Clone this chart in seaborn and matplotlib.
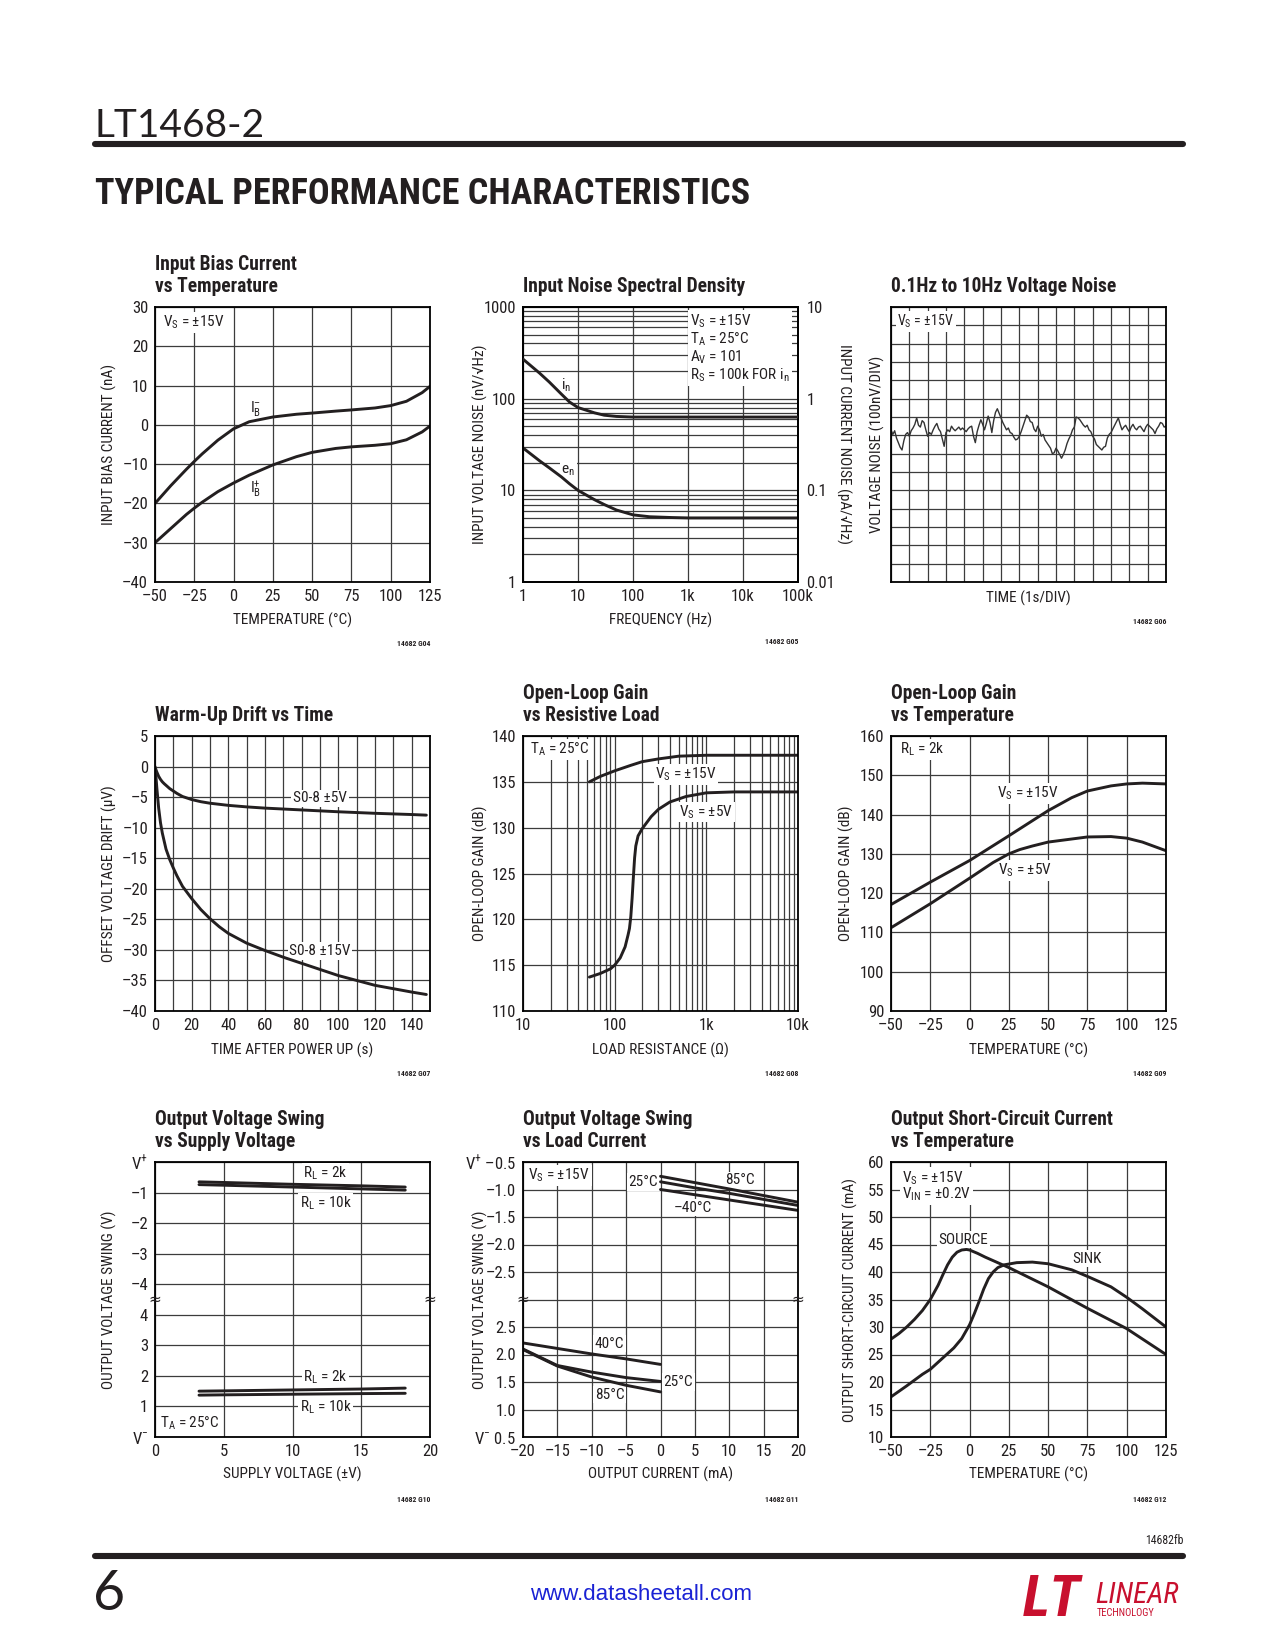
import numpy as np
import matplotlib
matplotlib.use('Agg')
import matplotlib.pyplot as plt
import matplotlib.font_manager as fm
from matplotlib.lines import Line2D
import seaborn as sns

# ---------------- data ----------------
# G04 input bias current vs temperature
ib_temp = [-50, -40, -30, -25, -20, -10, 0, 10, 25, 40, 50, 65, 75, 90, 100, 110, 120, 125]
ib_minus = [-20, -15.5, -11.3, -9.3, -7.4, -3.9, -1.0, 0.8, 2.0, 2.7, 3.0, 3.5, 3.8, 4.3, 4.9, 6.0, 8.2, 9.8]
ib_plus = [-30, -26.4, -22.8, -21.2, -19.7, -17.0, -14.8, -12.8, -10.2, -8.1, -7.0, -6.0, -5.6, -5.2, -4.8, -3.8, -1.8, -0.3]

# G05 input noise spectral density
nz_freq = [1, 2, 3, 5, 7, 10, 20, 30, 50, 100, 200, 500, 1000, 10000, 100000]
en_nv = [29, 21, 17.6, 14, 11.8, 10, 7.9, 7.0, 6.1, 5.4, 5.15, 5.05, 5.0, 5.0, 5.0]
in_pa = [2.7, 1.9, 1.52, 1.12, 0.92, 0.80, 0.70, 0.66, 0.64, 0.63, 0.63, 0.63, 0.63, 0.63, 0.63]

# G06 0.1Hz to 10Hz noise, nV (100nV/div), one sample per 0.1 div
noise_nv = [30, 5, 25, -15, -40, -65, -80, -30, 5, 15, -5, 25, 40, 60, 95, 55, 45, 80, 70, 30,
            -5, 15, 5, 30, 50, 65, 35, 20, -20, -60, 15, 30, 20, 50, 35, 25, 35, 45, 30, 40,
            30, 20, 35, 45, 50, -5, -40, 20, 55, 85, 60, 30, 65, 105, 70, 15, 80, 125, 145, 120,
            95, 70, 50, 30, 40, 15, 10, -10, -25, -20, -5, 20, 50, 80, 110, 100, 75, 70, 35, 20,
            50, 30, -5, 5, -25, -40, -55, -70, -100, -95, -70, -85, -105, -125, -105, -80, -45, -20, 0, 30,
            45, 100, 95, 85, 70, 55, 45, 55, 30, 20, -5, -20, -50, -60, -70, -80, -65, -60, -15, 5,
            15, 35, 55, 75, 95, 60, 30, 45, 55, 35, 20, 45, 60, 40, 30, 45, 50, 35, 20, 45,
            60, 50, 40, 30, 10, 35, 50, 70, 65, 45, 50]

# G07 warm-up drift
drift5_t = [0, 0.5, 1, 2, 3, 4, 5, 6.5, 8, 10, 12, 15, 20, 25, 30, 40, 50, 60, 80, 100, 120, 140, 148]
drift5 = [0, -0.5, -0.9, -1.6, -2.1, -2.5, -2.8, -3.2, -3.6, -4.0, -4.4, -4.9, -5.4, -5.75, -6.0,
          -6.35, -6.6, -6.8, -7.1, -7.4, -7.65, -7.85, -7.95]
drift15_t = [0.3, 1, 2, 3, 4, 6, 8, 10, 12, 15, 20, 25, 30, 35, 40, 50, 60, 70, 80, 100, 120, 140, 148]
drift15 = [-0.8, -3.5, -6.8, -9.2, -10.9, -13.5, -15.2, -16.6, -17.9, -19.6, -21.6, -23.4, -24.9, -26.2,
           -27.3, -28.9, -30.1, -31.2, -32.2, -34.2, -35.8, -36.9, -37.3]

# G08 open-loop gain vs resistive load
olr15_r = [53, 70, 100, 150, 200, 300, 500, 1000, 2000, 10000]
olr15 = [135.0, 135.6, 136.2, 136.8, 137.2, 137.5, 137.8, 137.9, 137.9, 137.9]
olr5_r = [53, 70, 90, 100, 115, 130, 140, 145, 150, 155, 160, 165, 170, 180, 200, 250, 300, 400, 600,
          1000, 2000, 10000]
olr5 = [113.7, 114.1, 114.6, 115.0, 115.8, 117.0, 118.3, 119.0, 120.3, 122.3, 124.6, 126.7, 128.0, 129.1,
        129.9, 131.2, 132.0, 132.8, 133.4, 133.8, 133.9, 133.9]

# G09 open-loop gain vs temperature
olt15_t = [-50, -25, 0, 25, 50, 65, 75, 90, 100, 110, 125]
olt15 = [117.1, 122.8, 128.3, 134.6, 141.0, 144.3, 146.0, 147.3, 147.8, 148.0, 147.8]
olt5_t = [-50, -25, 0, 15, 25, 32, 40, 50, 75, 90, 100, 110, 125]
olt5 = [111.2, 117.3, 123.8, 127.8, 130.0, 131.1, 132.0, 133.0, 134.3, 134.4, 134.0, 133.0, 130.8]

# G10 output swing vs supply (top: V from V+, bottom: V from V-)
sw_vs = [3.2, 5, 10, 15, 18.2]
sw_hi_2k = [-0.65, -0.67, -0.73, -0.78, -0.82]
sw_hi_10k = [-0.74, -0.76, -0.82, -0.88, -0.92]
sw_lo_2k = [1.50, 1.51, 1.54, 1.57, 1.60]
sw_lo_10k = [1.37, 1.38, 1.40, 1.42, 1.43]

# G11 output swing vs load current
src_ma = [0, 5, 10, 15, 20]
src_85 = [-0.76, -0.875, -0.99, -1.11, -1.23]
src_25 = [-0.86, -0.97, -1.07, -1.18, -1.29]
src_m40 = [-1.0, -1.095, -1.19, -1.285, -1.38]
snk_ma = [-20, -18, -15, -10, -5, 0]
snk_40 = [2.21, 2.17, 2.11, 2.01, 1.92, 1.82]
snk_25 = [2.10, 1.98, 1.80, 1.68, 1.58, 1.51]
snk_85 = [2.09, 1.97, 1.79, 1.59, 1.44, 1.32]

# G12 short-circuit current
sc_src_t = [-50, -45, -40, -35, -30, -25, -20, -17, -14, -11, -8, -5, -2, 0, 5, 10, 25, 50, 75, 100, 125]
sc_src = [27.8, 28.8, 30.0, 31.4, 33.0, 35.0, 37.6, 39.5, 41.3, 42.7, 43.6, 44.0, 44.1, 44.0, 43.4, 42.7,
          40.8, 37.3, 33.4, 29.7, 25.0]
sc_snk_t = [-50, -40, -30, -25, -20, -10, -5, 0, 3, 6, 9, 12, 15, 18, 22, 30, 40, 50, 65, 75, 90, 100,
            110, 125]
sc_snk = [17.3, 19.3, 21.4, 22.3, 23.6, 26.2, 27.9, 30.4, 32.4, 34.6, 36.9, 38.8, 40.0, 40.8, 41.3, 41.7,
          41.8, 41.5, 40.4, 39.2, 37.3, 35.4, 33.3, 30.0]

DASH = '\u2013'
sw7_labels = ['V$^{-}$', '1', '2', '3', '4', DASH + '4', DASH + '3', DASH + '2', DASH + '1', 'V$^{+}$']
sw8_labels = ['V$^{-}$ 0.5', '1.0', '1.5', '2.0', '2.5', '', DASH + '2.5', DASH + '2.0', DASH + '1.5',
              DASH + '1.0', 'V$^{+}$ ' + DASH + '0.5']

# ---------------- style ----------------
sns.set_style('white')
names = set(f.name for f in fm.fontManager.ttflist)
cands = ['Liberation Sans Narrow', 'Arial Narrow', 'Roboto Condensed', 'Noto Sans Condensed',
         'Open Sans Condensed', 'DejaVu Sans Condensed', 'Nimbus Sans Narrow']
found = [c for c in cands if c in names]
dejavu_cond = any('DejaVuSansCondensed' in f.fname for f in fm.fontManager.ttflist)
if found:
    NARROW = found[0]
    K = 1.0
elif dejavu_cond:
    NARROW = 'DejaVu Sans'
    plt.rcParams['font.stretch'] = 'condensed'
    K = 0.92
else:
    NARROW = 'Liberation Sans'
    K = 0.9
plt.rcParams['font.family'] = [NARROW, 'DejaVu Sans']
plt.rcParams['mathtext.fontset'] = 'custom'
plt.rcParams['mathtext.rm'] = NARROW
plt.rcParams['mathtext.it'] = NARROW
plt.rcParams['mathtext.bf'] = NARROW + ':bold'

INK = '#231f20'
GRID = '#3c3c3c'
LW = 2.1
TICK = 12 * K
NOTE = 11 * K
LAB = 11 * K

W, H = 1275, 1650
fig = plt.figure(figsize=(W / 100, H / 100), dpi=100)


def lbl(vals):
    return [str(v).replace('-', DASH) for v in vals]


def add_ax(left, top, w=275, h=275):
    ax = fig.add_axes([left / W, 1 - (top + h) / H, w / W, h / H])
    ax._px = (left, top, w, h)
    return ax


def ftext(x, y, s, **kw):
    return fig.text(x / W, 1 - y / H, s, **kw)


def style(ax):
    for s in ax.spines.values():
        s.set_color('black')
        s.set_linewidth(1.3)
        s.set_zorder(6)
    ax.set_axisbelow(True)
    ax.grid(True, which='major', color=GRID, lw=0.9)
    ax.tick_params(which='both', length=0, labelsize=TICK, labelcolor=INK, pad=5)


def ticks(ax, xs=None, ys=None):
    if xs is not None:
        ax.set_xticks(xs)
        ax.set_xticklabels(lbl(xs))
    if ys is not None:
        ax.set_yticks(ys)
        ax.set_yticklabels(lbl(ys))


def title(ax, lines):
    left, top, w, h = ax._px
    n = len(lines)
    for i, s in enumerate(lines):
        ftext(left, top - 15 - 22 * (n - 1 - i), s, fontsize=14.5 * K * 0.97, weight='bold', color=INK,
              va='baseline')


def xlab(ax, s, dy=38):
    ax.text(0.5, -dy / 275, s, transform=ax.transAxes, ha='center', va='center', fontsize=LAB, color=INK)


def ylab(ax, s, dx=46, right=False):
    if right:
        ax.text(1 + dx / 275, 0.5, s, transform=ax.transAxes, ha='center', va='center',
                rotation=270, fontsize=LAB, color=INK)
    else:
        ax.text(-dx / 275, 0.5, s, transform=ax.transAxes, ha='center', va='center',
                rotation=90, fontsize=LAB, color=INK)


def code(ax, s, dy=62):
    ax.text(1.0, -dy / 275, s, transform=ax.transAxes, ha='right', va='center', fontsize=5.5,
            weight='bold', color=INK)


def note(ax, x, y, s, ha='center', va='center', size=None):
    ax.text(x, y, s, ha=ha, va=va, fontsize=size or NOTE, color=INK, zorder=3,
            bbox=dict(fc='white', ec='none', pad=1.2))


def curve(ax, x, y, lw=LW, color=INK):
    sns.lineplot(x=x, y=y, ax=ax, color=color, lw=lw, zorder=4, legend=False)


COLS = [155, 523, 891]
ROWS = [307, 736, 1162]

# ---- G04 ----
ax = add_ax(COLS[0], ROWS[0])
style(ax)
curve(ax, ib_temp, ib_minus)
curve(ax, ib_temp, ib_plus)
ax.set_xlim(-50, 125)
ax.set_ylim(-40, 30)
ticks(ax, list(range(-50, 126, 25)), list(range(-40, 31, 10)))
note(ax, -45, 26, 'V$_\\mathrm{S}$ = \u00b115V', ha='left')
note(ax, 14, 4.2, 'I$_\\mathrm{B}^{' + DASH + '}$')
note(ax, 14, -16.2, 'I$_\\mathrm{B}^{+}$')
title(ax, ['Input Bias Current', 'vs Temperature'])
xlab(ax, 'TEMPERATURE (\u00b0C)')
ylab(ax, 'INPUT BIAS CURRENT (nA)')
code(ax, '14682 G04')

# ---- G05 ----
ax = add_ax(COLS[1], ROWS[0])
style(ax)
ax.set_xscale('log')
ax.set_yscale('log')
ax.set_xlim(1, 1e5)
ax.set_ylim(1, 1000)
ax.grid(True, which='minor', axis='y', color=GRID, lw=0.9)
curve(ax, nz_freq, en_nv)
ax.set_xticks([1, 10, 100, 1e3, 1e4, 1e5])
ax.set_xticklabels(['1', '10', '100', '1k', '10k', '100k'])
ax.set_yticks([1, 10, 100, 1000])
ax.set_yticklabels(['1', '10', '100', '1000'])
ax.tick_params(which='minor', labelleft=False, labelbottom=False)
ax.text(10 ** 3.04, 10 ** 2.94,
        'V$_\\mathrm{S}$ = \u00b115V\nT$_\\mathrm{A}$ = 25\u00b0C\nA$_\\mathrm{V}$ = 101\nR$_\\mathrm{S}$ = 100k FOR i$_\\mathrm{n}$',
        ha='left', va='top', fontsize=NOTE, color=INK, linespacing=1.05, zorder=3,
        bbox=dict(fc='white', ec='none', pad=1.5))
note(ax, 6.0, 140, 'i$_\\mathrm{n}$')
note(ax, 6.6, 16.5, 'e$_\\mathrm{n}$')
axr = ax.twinx()
axr.set_yscale('log')
axr.set_ylim(0.01, 10)
curve(axr, nz_freq, in_pa)
axr.set_yticks([0.01, 0.1, 1, 10])
axr.set_yticklabels(['0.01', '0.1', '1', '10'])
axr.tick_params(which='both', length=0, labelsize=TICK, labelcolor=INK, pad=6)
axr.tick_params(which='minor', labelright=False)
axr.set_ylabel('')
for s in axr.spines.values():
    s.set_linewidth(1.3)
    s.set_color('black')
ax.set_ylabel('')
title(ax, ['Input Noise Spectral Density'])
xlab(ax, 'FREQUENCY (Hz)')
ylab(ax, 'INPUT VOLTAGE NOISE (nV/\u221aHz)', dx=43)
ylab(ax, 'INPUT CURRENT NOISE (pA/\u221aHz)', dx=46, right=True)
code(ax, '14682 G05', dy=60)

# ---- G06 ----
ax = add_ax(COLS[2], ROWS[0])
style(ax)
noise_time = np.linspace(0, 15, len(noise_nv))
curve(ax, noise_time, noise_nv, lw=1.0, color='#333333')
ax.set_xlim(0, 15)
ax.set_ylim(-800, 700)
ax.set_xticks(range(0, 16))
ax.set_yticks(range(-800, 701, 100))
ax.set_xticklabels([])
ax.set_yticklabels([])
note(ax, 0.35, 620, 'V$_\\mathrm{S}$ = \u00b115V', ha='left', size=NOTE * 0.92)
title(ax, ['0.1Hz to 10Hz Voltage Noise'])
xlab(ax, 'TIME (1s/DIV)', dy=16)
ylab(ax, 'VOLTAGE NOISE (100nV/DIV)', dx=14)
code(ax, '14682 G06', dy=40)

# ---- G07 ----
ax = add_ax(COLS[0], ROWS[1])
style(ax)
curve(ax, drift5_t, drift5)
curve(ax, drift15_t, drift15)
ax.set_xlim(0, 150)
ax.set_ylim(-40, 5)
ax.set_xticks(range(0, 151, 10))
ax.set_xticklabels([str(v) if v % 20 == 0 and v < 150 else '' for v in range(0, 151, 10)])
ticks(ax, ys=list(range(-40, 6, 5)))
note(ax, 90, -5.2, 'S0-8 \u00b15V')
note(ax, 90, -30.2, 'S0-8 \u00b115V')
title(ax, ['Warm-Up Drift vs Time'])
xlab(ax, 'TIME AFTER POWER UP (s)', dy=39)
ylab(ax, 'OFFSET VOLTAGE DRIFT (\u03bcV)')
code(ax, '14682 G07', dy=63)

# ---- G08 ----
ax = add_ax(COLS[1], ROWS[1])
style(ax)
ax.set_xscale('log')
ax.set_xlim(10, 1e4)
ax.set_ylim(110, 140)
ax.grid(True, which='minor', axis='x', color=GRID, lw=0.9)
curve(ax, olr15_r, olr15)
curve(ax, olr5_r, olr5)
ax.set_xticks([10, 100, 1e3, 1e4])
ax.set_xticklabels(['10', '100', '1k', '10k'])
ax.tick_params(which='minor', labelbottom=False)
ticks(ax, ys=list(range(110, 141, 5)))
note(ax, 11.8, 138.5, 'T$_\\mathrm{A}$ = 25\u00b0C', ha='left')
note(ax, 600, 135.8, 'V$_\\mathrm{S}$ = \u00b115V')
note(ax, 1000, 131.7, 'V$_\\mathrm{S}$ = \u00b15V')
title(ax, ['Open-Loop Gain', 'vs Resistive Load'])
xlab(ax, 'LOAD RESISTANCE (\u03a9)', dy=39)
ylab(ax, 'OPEN-LOOP GAIN (dB)', dx=43)
code(ax, '14682 G08', dy=63)

# ---- G09 ----
ax = add_ax(COLS[2], ROWS[1])
style(ax)
curve(ax, olt15_t, olt15)
curve(ax, olt5_t, olt5)
ax.set_xlim(-50, 125)
ax.set_ylim(90, 160)
ticks(ax, list(range(-50, 126, 25)), list(range(90, 161, 10)))
note(ax, -44.5, 156.5, 'R$_\\mathrm{L}$ = 2k', ha='left')
note(ax, 37, 145.3, 'V$_\\mathrm{S}$ = \u00b115V')
note(ax, 35.5, 125.7, 'V$_\\mathrm{S}$ = \u00b15V')
title(ax, ['Open-Loop Gain', 'vs Temperature'])
xlab(ax, 'TEMPERATURE (\u00b0C)', dy=39)
ylab(ax, 'OPEN-LOOP GAIN (dB)', dx=45)
code(ax, '14682 G09', dy=63)


def brk(ax, y):
    for xx in (0, 1):
        ax.text(xx, y, '\u2248', transform=ax.get_yaxis_transform(), ha='center', va='center',
                fontsize=11, color=INK, zorder=7, family='DejaVu Sans')


# ---- G10 ----
ax = add_ax(COLS[0], ROWS[2])
style(ax)
curve(ax, sw_vs, [9 + v for v in sw_hi_2k])
curve(ax, sw_vs, [9 + v for v in sw_hi_10k])
curve(ax, sw_vs, sw_lo_2k)
curve(ax, sw_vs, sw_lo_10k)
ax.set_xlim(0, 20)
ax.set_ylim(0, 9)
ax.set_xticks(range(0, 21, 5))
ax.set_yticks(range(0, 10))
ax.set_yticklabels(sw7_labels)
brk(ax, 4.5)
note(ax, 12.4, 8.62, 'R$_\\mathrm{L}$ = 2k')
note(ax, 12.4, 7.64, 'R$_\\mathrm{L}$ = 10k')
note(ax, 12.4, 1.96, 'R$_\\mathrm{L}$ = 2k')
note(ax, 12.4, 0.98, 'R$_\\mathrm{L}$ = 10k')
note(ax, 0.4, 0.45, 'T$_\\mathrm{A}$ = 25\u00b0C', ha='left')
title(ax, ['Output Voltage Swing', 'vs Supply Voltage'])
xlab(ax, 'SUPPLY VOLTAGE (\u00b1V)', dy=37)
ylab(ax, 'OUTPUT VOLTAGE SWING (V)')
code(ax, '14682 G10')

# ---- G11 ----
ax = add_ax(COLS[1], ROWS[2])
style(ax)
for ys in (src_85, src_25, src_m40):
    curve(ax, src_ma, [11 + 2 * v for v in ys])
for ys in (snk_40, snk_25, snk_85):
    curve(ax, snk_ma, [2 * v - 1 for v in ys])
ax.set_xlim(-20, 20)
ax.set_ylim(0, 10)
ticks(ax, xs=list(range(-20, 21, 5)))
ax.set_yticks(range(0, 11))
ax.set_yticklabels(sw8_labels)
brk(ax, 5)
note(ax, -19.2, 9.52, 'V$_\\mathrm{S}$ = \u00b115V', ha='left')
note(ax, -2.5, 9.27, '25\u00b0C')
note(ax, 11.6, 9.33, '85\u00b0C')
note(ax, 4.7, 8.34, DASH + '40\u00b0C')
note(ax, -7.4, 3.39, '40\u00b0C')
note(ax, 2.6, 2.0, '25\u00b0C')
note(ax, -7.4, 1.54, '85\u00b0C')
title(ax, ['Output Voltage Swing', 'vs Load Current'])
xlab(ax, 'OUTPUT CURRENT (mA)', dy=37)
ylab(ax, 'OUTPUT VOLTAGE SWING (V)', dx=43)
code(ax, '14682 G11')

# ---- G12 ----
ax = add_ax(COLS[2], ROWS[2])
style(ax)
curve(ax, sc_src_t, sc_src)
curve(ax, sc_snk_t, sc_snk)
ax.set_xlim(-50, 125)
ax.set_ylim(10, 60)
ticks(ax, list(range(-50, 126, 25)), list(range(10, 61, 5)))
ax.text(-43, 58.7, 'V$_\\mathrm{S}$ = \u00b115V\nV$_\\mathrm{IN}$ = \u00b10.2V', ha='left', va='top',
        fontsize=NOTE, color=INK, linespacing=0.95, zorder=3, bbox=dict(fc='white', ec='none', pad=1.2))
note(ax, -4, 45.9, 'SOURCE')
note(ax, 75, 42.4, 'SINK')
title(ax, ['Output Short-Circuit Current', 'vs Temperature'])
xlab(ax, 'TEMPERATURE (\u00b0C)', dy=37)
ylab(ax, 'OUTPUT SHORT-CIRCUIT CURRENT (mA)', dx=41)
code(ax, '14682 G12')

# ---------------- page furniture ----------------
LIGHT = ['Lato', 'DejaVu Sans']
ftext(95, 137, 'LT1468-2', fontsize=28, family=LIGHT, weight='normal', color=INK, va='baseline')
fig.add_artist(Line2D([95 / W, 1183 / W], [1 - 144 / H] * 2, lw=4.4, color=INK))
ftext(95, 204, 'TYPICAL PERFORMANCE CHARACTERISTICS', fontsize=26 * K, weight='heavy', color=INK,
      va='baseline')

ftext(1183, 1540, '14682fb', fontsize=8.5, color=INK, ha='right', va='center')
fig.add_artist(Line2D([95 / W, 1183 / W], [1 - 1556 / H] * 2, lw=4.4, color=INK))
ftext(93, 1610, '6', fontsize=40, family=LIGHT, weight='normal', color=INK, va='baseline')
ftext(641, 1594, 'www.datasheetall.com', fontsize=16, family=['Liberation Sans', 'DejaVu Sans'],
      color='#1a22d4', ha='center', va='center')
RED = '#c8102e'
ftext(1052, 1616, 'LT', fontsize=42, weight='bold', style='italic', color=RED, ha='center', va='baseline')
ftext(1095, 1603, 'LINEAR', fontsize=21, style='italic', color=RED, ha='left', va='baseline')
ftext(1097, 1616, 'TECHNOLOGY', fontsize=7.5, color=RED, ha='left', va='baseline')

fig.savefig('out.png', dpi=100)
